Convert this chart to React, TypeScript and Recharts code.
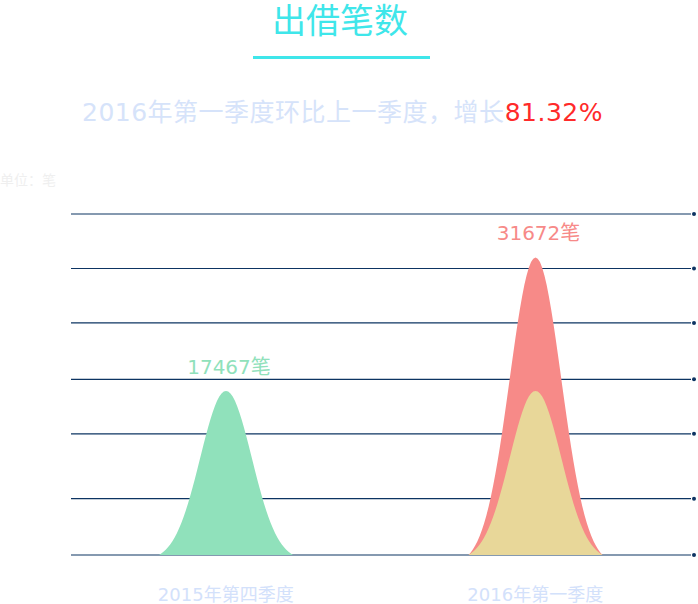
import React from "react";
import { Bar, BarChart, CartesianGrid, Cell, LabelList, XAxis, YAxis } from "recharts";

const quarters = ["2015年第四季度", "2016年第一季度"];
const currentCounts = [17467, 31672];
const previousCounts: (number | null)[] = [null, 17467];
const gridValues = [0, 6000, 12900, 18700, 24700, 30500, 36300];
const peakColors = ["#90e1bb", "#f78a88"];

const data = quarters.map((name, i) => ({
  name,
  current: currentCounts[i],
  previous: previousCounts[i],
}));

const cjk = '"Noto Sans CJK SC", "Noto Sans", sans-serif';
const mixed = '"DejaVu Sans", "Noto Sans CJK SC", sans-serif';

// bell shaped peak, base = bar bottom, apex = bar top
function Peak(props: any) {
  const { x, y, width, height, fill } = props;
  if (!height || height <= 0) return null;
  const s = width / 5.2;
  const e0 = Math.exp(-(width * width) / 4 / (2 * s * s));
  const steps = 60;
  let d = "";
  for (let i = 0; i <= steps; i++) {
    const px = x + (width * i) / steps;
    const t = px - (x + width / 2);
    const f = (Math.exp(-(t * t) / (2 * s * s)) - e0) / (1 - e0);
    const py = y + height - f * height;
    d += (i === 0 ? "M" : "L") + px.toFixed(2) + "," + py.toFixed(2);
  }
  d += "Z";
  return <path d={d} fill={fill} />;
}

function GridLine(props: any) {
  const { x1, x2, y1 } = props;
  return (
    <g>
      <line x1={x1} x2={x2 + 1} y1={y1} y2={y1} stroke="#0d3462" strokeWidth={1.2} />
      <circle cx={x2 + 4} cy={y1} r={2} fill="#0d3462" />
    </g>
  );
}

function PeakLabel(props: any) {
  const { x, y, width, value, index } = props;
  return (
    <text
      x={x + width / 2 + 3}
      y={y - 17}
      textAnchor="middle"
      fill={peakColors[index]}
      fontSize={20}
      fontFamily={mixed}
    >
      {value}笔
    </text>
  );
}

export default function App() {
  return (
    <div
      style={{
        position: "absolute",
        left: 0,
        top: 0,
        width: 698,
        height: 604,
        background: "#fff",
        fontFamily: cjk,
      }}
    >
      <div
        style={{
          position: "absolute",
          left: 0,
          width: 680,
          top: 1,
          textAlign: "center",
          color: "#3fe6ea",
          fontSize: 34,
          lineHeight: "36px",
        }}
      >
        出借笔数
      </div>
      <div
        style={{
          position: "absolute",
          left: 253,
          top: 56,
          width: 177,
          height: 3,
          background: "#3fe6ea",
        }}
      />
      <div
        style={{
          position: "absolute",
          left: 82,
          top: 98,
          whiteSpace: "nowrap",
          color: "#d6e3fa",
          fontSize: 25,
          letterSpacing: 0.5,
          lineHeight: "30px",
          fontFamily: mixed,
        }}
      >
        2016年第一季度环比上一季度，增长
        <span style={{ color: "#ff2a2a" }}>81.32%</span>
      </div>
      <div
        style={{
          position: "absolute",
          left: 0,
          top: 171,
          color: "#efefef",
          fontSize: 14,
          lineHeight: "16px",
        }}
      >
        单位：笔
      </div>
      <div style={{ position: "absolute", left: 0, top: 0 }}>
        <BarChart
          width={698}
          height={604}
          data={data}
          margin={{ top: 214, right: 8, bottom: 19, left: 71 }}
          barGap={-134}
        >
          <CartesianGrid
            vertical={false}
            horizontalValues={gridValues}
            horizontal={(p: any) => <GridLine key={p.key ?? p.y1} {...p} />}
          />
          <YAxis hide domain={[0, 36300]} />
          <XAxis
            dataKey="name"
            axisLine={false}
            tickLine={false}
            tickSize={0}
            tickMargin={33}
            height={30}
            tick={{ fill: "#d3e1fb", fontSize: 18, fontFamily: mixed }}
          />
          <Bar dataKey="current" barSize={134} shape={Peak} isAnimationActive={false}>
            {data.map((d, i) => (
              <Cell key={d.name} fill={peakColors[i]} />
            ))}
            <LabelList dataKey="current" content={PeakLabel} />
          </Bar>
          <Bar
            dataKey="previous"
            barSize={134}
            fill="#e8d799"
            shape={Peak}
            isAnimationActive={false}
          />
        </BarChart>
      </div>
    </div>
  );
}
